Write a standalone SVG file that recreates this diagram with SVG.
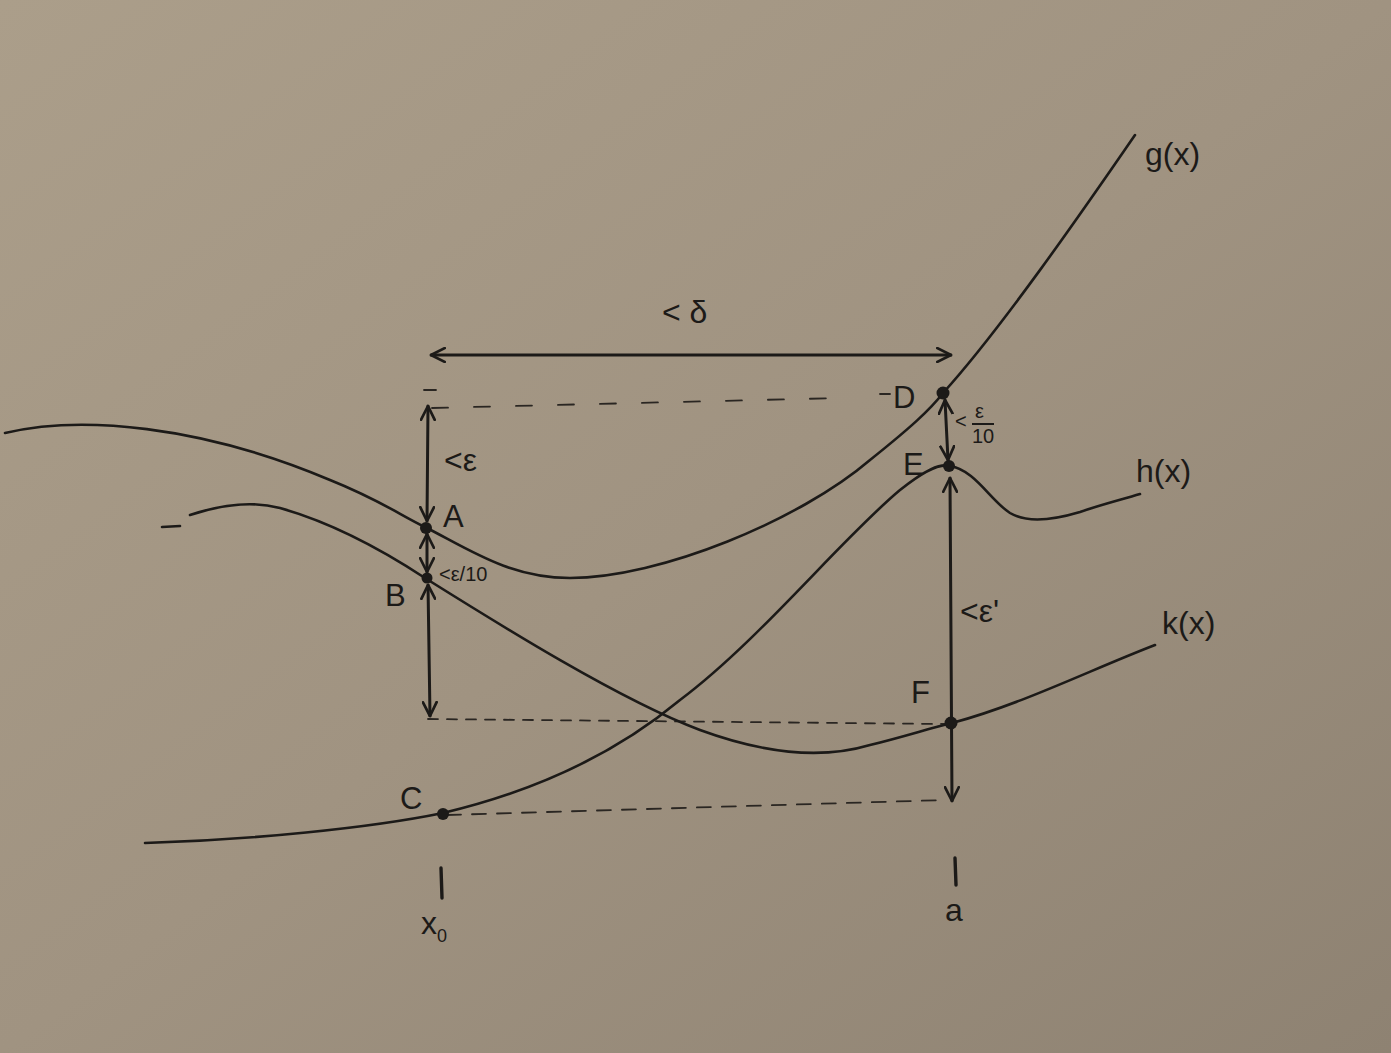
<svg xmlns="http://www.w3.org/2000/svg" width="1391" height="1053" viewBox="0 0 1391 1053">
<defs>
<linearGradient id="bg" x1="0" y1="0" x2="1" y2="1">
<stop offset="0" stop-color="#ab9e8a"/>
<stop offset="0.5" stop-color="#a09381"/>
<stop offset="1" stop-color="#8e8272"/>
</linearGradient>
<marker id="ah" viewBox="0 0 14 14" refX="13" refY="7" markerWidth="16" markerHeight="16" markerUnits="userSpaceOnUse" orient="auto-start-reverse">
<path d="M1,1 L13,7 L1,13" fill="none" stroke="#1c1a18" stroke-width="2.4" stroke-linecap="round" stroke-linejoin="round"/>
</marker>
<style>
.curve{fill:none;stroke:#1c1a18;stroke-width:2.6;stroke-linecap:round}
.arr{fill:none;stroke:#1c1a18;stroke-width:3;stroke-linecap:round;marker-start:url(#ah);marker-end:url(#ah)}
.dash{fill:none;stroke:#2a2622;stroke-width:1.8;stroke-linecap:round}
.pt{fill:#1c1a18}
.tick{stroke:#1c1a18;stroke-width:3.4;stroke-linecap:round}
text{font-family:"Liberation Sans","DejaVu Sans",sans-serif;fill:#1c1a18}
.lbl{font-size:31px}
.fn{font-size:32px}
.sm{font-size:20px}
</style>
</defs>
<rect x="0" y="0" width="1391" height="1053" fill="url(#bg)"/>

<g id="connectors">
<line class="dash" x1="424" y1="390" x2="436" y2="390"/>
<path class="dash" d="M432,408 L840,398" stroke-dasharray="16 26"/>
<line class="dash" x1="880" y1="394" x2="890" y2="394"/>
<path class="dash" d="M428,719 L945,724" stroke-dasharray="10 9"/>
<path class="dash" d="M447,815 L945,800" stroke-dasharray="14 11"/>
<line class="arr" x1="431" y1="355" x2="951" y2="355"/>
<line class="arr" x1="428" y1="406" x2="427" y2="521"/>
<line class="arr" x1="427" y1="534" x2="427" y2="572"/>
<line class="arr" x1="428" y1="585" x2="430" y2="716"/>
<line class="arr" x1="945" y1="400" x2="948" y2="460"/>
<line class="arr" x1="950" y1="478" x2="952" y2="801"/>
<line class="tick" x1="441" y1="868" x2="442" y2="898"/>
<line class="tick" x1="955" y1="858" x2="956" y2="885"/>
</g>

<g id="curve-g">
<path class="curve" d="M5,433 C80,415 200,425 330,480 C380,500 400,515 425,527 C470,550 510,578 570,578 C660,578 800,520 870,460 C910,428 930,410 943,393 C1000,330 1080,215 1135,135"/>
<text class="fn" x="1145" y="165">g(x)</text>
</g>
<g id="curve-k">
<path class="curve" d="M162,527 L180,526"/>
<path class="curve" d="M190,515 C220,505 250,500 280,508 C340,525 390,555 425,578 C500,625 620,700 700,730 C760,752 820,760 870,745 C910,735 930,728 952,723 C1020,705 1090,670 1155,645"/>
<text class="fn" x="1162" y="634">k(x)</text>
</g>
<g id="curve-h">
<path class="curve" d="M145,843 C250,840 370,828 443,813 C540,790 620,750 680,700 C760,640 840,540 900,490 C925,470 940,463 950,466 C975,470 990,500 1010,513 C1030,525 1060,518 1080,512 C1100,505 1120,500 1140,494"/>
<text class="fn" x="1136" y="482">h(x)</text>
</g>

<g id="node-A"><circle class="pt" cx="426" cy="528" r="6"/><text class="lbl" x="443" y="527">A</text></g>
<g id="node-B"><circle class="pt" cx="427" cy="578" r="5.5"/><text class="lbl" x="385" y="606">B</text></g>
<g id="node-C"><circle class="pt" cx="443" cy="814" r="6"/><text class="lbl" x="400" y="809">C</text></g>
<g id="node-D"><circle class="pt" cx="943" cy="393" r="6.5"/><text class="lbl" x="893" y="408">D</text></g>
<g id="node-E"><circle class="pt" cx="949" cy="466" r="6"/><text class="lbl" x="903" y="475">E</text></g>
<g id="node-F"><circle class="pt" cx="951" cy="723" r="6.5"/><text class="lbl" x="911" y="703">F</text></g>

<g id="labels">
<text class="fn" x="662" y="323">&lt; δ</text>
<text class="fn" x="444" y="471">&lt;ε</text>
<text class="sm" x="439" y="581">&lt;ε/10</text>
<text class="sm" x="955" y="428">&lt;</text>
<text class="sm" x="975" y="418">ε</text>
<line x1="972" y1="424" x2="994" y2="424" stroke="#1c1a18" stroke-width="2"/>
<text class="sm" x="972" y="443">10</text>
<text class="fn" x="960" y="622">&lt;ε'</text>
<text class="fn" x="421" y="934">x<tspan font-size="18" dy="8">0</tspan></text>
<text class="fn" x="945" y="921">a</text>
</g>
</svg>
